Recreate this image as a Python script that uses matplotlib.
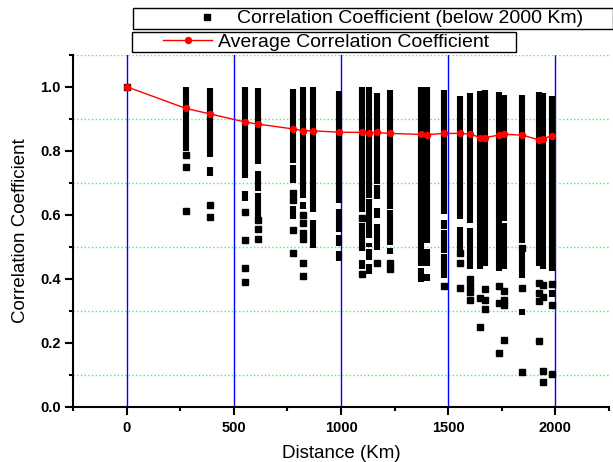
import matplotlib
matplotlib.use('Agg')
import matplotlib.pyplot as plt
from matplotlib.legend_handler import HandlerLine2D
from matplotlib.ticker import MultipleLocator, FormatStrFormatter

plt.rcParams['font.family'] = ['Liberation Sans', 'DejaVu Sans']

# dense runs of correlation values at each station distance (Km)
seg_x = [277, 389, 389, 550, 550, 614, 614, 614, 777, 777, 777, 822, 822,
         869, 869, 990, 990, 990, 990, 1097, 1097, 1097,
         1131, 1131, 1131, 1131, 1131, 1167, 1167, 1167, 1167,
         1229, 1229, 1229, 1374, 1374, 1402, 1402, 1402,
         1481, 1481, 1481, 1481, 1556, 1556, 1602, 1602, 1649, 1672, 1737,
         1761, 1761, 1844, 1844, 1844, 1923, 1942, 1983, 1983]
seg_top = [1.0, 0.995, 0.748, 1.0, 0.674, 0.995, 0.737, 0.669, 0.993, 0.755, 0.627, 1.0, 0.64,
           0.998, 0.583, 0.987, 0.619, 0.538, 0.488, 1.0, 0.573, 0.458,
           1.0, 0.648, 0.512, 0.493, 0.447, 0.979, 0.692, 0.622, 0.57,
           0.991, 0.614, 0.497, 0.998, 0.434, 0.998, 0.493, 0.416,
           0.989, 0.583, 0.552, 0.476, 0.972, 0.562, 0.979, 0.559, 0.987, 0.991, 0.982,
           0.974, 0.573, 0.974, 0.483, 0.305, 0.984, 0.98, 0.970, 0.366]
seg_bot = [0.80, 0.779, 0.72, 0.716, 0.643, 0.758, 0.674, 0.591, 0.763, 0.700, 0.585, 0.653, 0.617,
           0.608, 0.497, 0.638, 0.545, 0.502, 0.455, 0.608, 0.486, 0.431,
           0.653, 0.528, 0.50, 0.457, 0.416, 0.695, 0.648, 0.591, 0.489,
           0.617, 0.505, 0.476, 0.439, 0.389, 0.51, 0.441, 0.394,
           0.601, 0.556, 0.481, 0.403, 0.587, 0.491, 0.575, 0.431, 0.431, 0.439, 0.423,
           0.58, 0.429, 0.512, 0.403, 0.287, 0.439, 0.429, 0.423, 0.342]

# isolated values
pt_x = [0, 277, 277, 277, 389, 389, 550, 550, 550, 550, 614, 614, 614,
        777, 777, 777, 777, 822, 822, 822, 822, 822, 822,
        1097, 1097, 1167, 1229, 1229, 1481, 1556, 1556, 1556,
        1602, 1602, 1602, 1602, 1649, 1649, 1672, 1672, 1672,
        1737, 1737, 1737, 1761, 1761, 1761, 1761, 1844, 1844, 1844,
        1923, 1923, 1923, 1923, 1942, 1942, 1942, 1942, 1983, 1983, 1983]
pt_y = [1.0, 0.787, 0.749, 0.613, 0.630, 0.592, 0.609, 0.522, 0.434, 0.391, 0.583, 0.556, 0.525,
        0.669, 0.645, 0.551, 0.481, 0.598, 0.573, 0.544, 0.525, 0.45, 0.408,
        0.591, 0.416, 0.45, 0.45, 0.429, 0.378, 0.479, 0.45, 0.371,
        0.40, 0.378, 0.359, 0.334, 0.34, 0.249, 0.369, 0.332, 0.305,
        0.376, 0.324, 0.169, 0.36, 0.334, 0.319, 0.209, 0.497, 0.371, 0.108,
        0.387, 0.355, 0.329, 0.204, 0.381, 0.342, 0.112, 0.078, 0.384, 0.319, 0.103]

# average coefficient per distance
avg_x = [0, 277, 389, 550, 614, 777, 822, 869, 990, 1097, 1131, 1167, 1229,
         1374, 1402, 1481, 1556, 1602, 1649, 1672, 1737, 1761, 1844, 1923, 1942, 1983]
avg_y = [1.0, 0.932, 0.915, 0.890, 0.883, 0.868, 0.863, 0.862, 0.858, 0.857, 0.856, 0.857, 0.854,
         0.851, 0.850, 0.854, 0.854, 0.852, 0.841, 0.841, 0.849, 0.851, 0.849, 0.834, 0.838, 0.846]

fig = plt.figure(figsize=(6.13, 4.62), dpi=100)
ax = fig.add_axes([0.1191, 0.1197, 0.8744, 0.7619])

ax.vlines(seg_x, seg_bot, seg_top, colors='black', linewidth=4.4, capstyle='butt', zorder=2)
pts, = ax.plot(pt_x, pt_y, 's', color='black', markersize=4.3, zorder=2,
               label='Correlation Coefficient (below 2000 Km)')
avg, = ax.plot(avg_x, avg_y, '-o', color='red', linewidth=1, markersize=4.3, zorder=3,
               label='Average Correlation Coefficient')

ax.set_xlim(-250, 2250)
ax.set_ylim(0, 1.1)
ax.xaxis.set_major_locator(MultipleLocator(500))
ax.xaxis.set_minor_locator(MultipleLocator(250))
ax.yaxis.set_major_locator(MultipleLocator(0.2))
ax.yaxis.set_minor_locator(MultipleLocator(0.1))
ax.yaxis.set_major_formatter(FormatStrFormatter('%.1f'))

ax.set_axisbelow(True)
ax.grid(which='major', axis='x', color='blue', linewidth=1)
ax.grid(which='minor', axis='y', color='#55ee55', linestyle=':', linewidth=1)

for s in ['top', 'right']:
    ax.spines[s].set_visible(False)
for s in ['left', 'bottom']:
    ax.spines[s].set_linewidth(1.5)
ax.tick_params(which='major', direction='out', length=5.5, width=1.5, labelsize=10.5)
ax.tick_params(which='minor', direction='out', length=3.2, width=1.5)
ax.tick_params(axis='x', which='major', pad=5)
ax.tick_params(axis='y', which='major', pad=3.5)
for lab in ax.get_xticklabels() + ax.get_yticklabels():
    lab.set_fontweight('bold')

ax.set_xlabel('Distance (Km)', fontsize=13.5, labelpad=7)
ax.set_ylabel('Correlation Coefficient', fontsize=13.5, labelpad=8)

# two separate legend boxes at the top
fs = 14 * 100 / 72
bp = 0.08
leg1 = fig.legend(handles=[pts], loc='upper left', mode='expand',
                  bbox_to_anchor=(132.7 / 613, 0, 480 / 613, 1 - 8.3 / 462),
                  fontsize=14, frameon=True, fancybox=False, edgecolor='black',
                  framealpha=1, borderpad=bp, borderaxespad=0, numpoints=1,
                  handlelength=95 / fs, handletextpad=7.8 / fs,
                  handler_map={pts: HandlerLine2D(numpoints=1, xpad=50.6 / fs)})
leg1.get_frame().set_linewidth(1)
leg2 = fig.legend(handles=[avg], loc='upper left', mode='expand',
                  bbox_to_anchor=(131.7 / 613, 0, 384 / 613, 1 - 31.7 / 462),
                  fontsize=14, frameon=True, fancybox=False, edgecolor='black',
                  framealpha=1, borderpad=bp, borderaxespad=0, numpoints=1,
                  handlelength=78.8 / fs, handletextpad=6 / fs,
                  handler_map={avg: HandlerLine2D(numpoints=1, xpad=29.8 / fs)})
leg2.get_frame().set_linewidth(1)

fig.savefig('out.png', dpi=100)
